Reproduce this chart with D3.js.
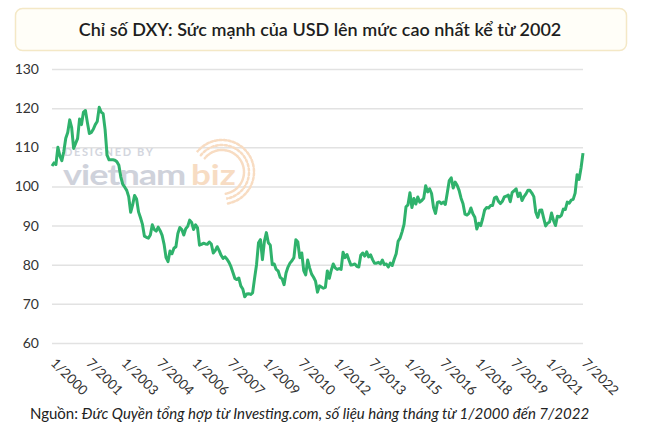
<!DOCTYPE html>
<html>
<head>
<meta charset="utf-8">
<script src="https://cdn.jsdelivr.net/npm/d3@7"></script>
<style>
  html, body { margin: 0; padding: 0; background: #ffffff; }
  svg { display: block; font-family: Lato, "Open Sans", sans-serif; }
</style>
</head>
<body>
<svg id="chart" width="647" height="428"></svg>
<script>
// ---------------- DATA ----------------
const titleText = "Chỉ số DXY: Sức mạnh của USD lên mức cao nhất kể từ 2002";
const sourceLabel = "Nguồn: ";
const sourceText = "Đức Quyền tổng hợp từ Investing.com, số liệu hàng tháng từ 1/2000 đến 7/2022";
const startYear = 2000;
const startMonth = 1;

// Monthly DXY values, 1/2000 .. 7/2022
const dxy2000 = [105.2, 106.0, 105.6, 110.0, 107.8, 106.6, 108.9, 112.3, 113.8, 117.0, 115.0, 109.7];
const dxy2001 = [111.0, 112.2, 117.2, 115.8, 119.0, 119.4, 116.3, 113.5, 113.8, 114.6, 115.8, 116.6];
const dxy2002 = [120.2, 119.0, 118.6, 114.5, 108.0, 106.8, 106.8, 106.8, 106.7, 106.3, 105.4, 102.4];
const dxy2003 = [100.5, 99.8, 99.0, 97.4, 93.4, 95.3, 97.7, 96.8, 93.5, 92.0, 90.3, 87.3];
const dxy2004 = [87.0, 86.8, 87.6, 90.2, 89.0, 88.6, 89.6, 88.7, 87.5, 85.2, 81.8, 80.8];
const dxy2005 = [83.5, 82.8, 84.2, 84.6, 88.0, 89.5, 89.0, 87.6, 89.2, 89.8, 91.4, 90.8];
const dxy2006 = [89.0, 90.2, 89.4, 85.0, 85.2, 85.5, 85.3, 85.2, 85.8, 85.3, 83.0, 83.6];
const dxy2007 = [84.6, 83.6, 82.4, 81.6, 82.0, 81.4, 80.6, 79.5, 78.0, 76.5, 76.2, 76.6];
const dxy2008 = [74.6, 73.8, 71.8, 72.5, 72.6, 72.4, 72.8, 76.5, 80.0, 85.6, 86.4, 81.3];
const dxy2009 = [86.0, 88.2, 85.6, 85.0, 80.0, 80.2, 78.8, 78.4, 76.8, 76.4, 74.9, 77.9];
const dxy2010 = [79.4, 80.4, 81.0, 81.8, 86.4, 85.8, 81.8, 83.0, 78.5, 77.4, 81.2, 79.2];
const dxy2011 = [77.6, 76.8, 75.8, 73.0, 74.6, 74.3, 74.0, 74.2, 78.4, 76.5, 78.6, 80.2];
const dxy2012 = [79.2, 78.8, 79.0, 78.8, 83.2, 81.8, 82.6, 81.2, 79.9, 80.0, 80.2, 79.6];
const dxy2013 = [79.4, 82.4, 83.0, 82.2, 83.3, 82.0, 82.5, 81.3, 80.4, 80.4, 80.6, 80.2];
const dxy2014 = [81.2, 80.0, 80.2, 79.4, 80.4, 79.8, 81.4, 82.8, 86.0, 86.8, 88.4, 90.3];
const dxy2015 = [94.8, 95.3, 98.4, 94.6, 96.9, 95.5, 97.3, 96.0, 96.4, 97.0, 100.2, 98.6];
const dxy2016 = [99.4, 98.2, 94.6, 93.1, 95.9, 96.1, 95.6, 96.0, 95.4, 98.4, 101.5, 102.2];
const dxy2017 = [99.6, 101.1, 100.3, 99.0, 97.0, 95.6, 92.9, 92.7, 93.1, 94.5, 93.0, 92.1];
const dxy2018 = [89.1, 90.6, 90.0, 91.8, 94.0, 94.6, 94.5, 95.1, 95.1, 97.1, 97.3, 96.2];
const dxy2019 = [95.6, 96.2, 97.3, 97.5, 97.8, 96.1, 98.5, 98.9, 99.4, 97.4, 98.3, 96.4];
const dxy2020 = [97.4, 98.1, 99.0, 99.0, 98.3, 97.4, 93.4, 92.1, 93.9, 94.0, 91.9, 89.9];
const dxy2021 = [90.6, 90.9, 93.2, 91.3, 90.0, 92.4, 92.2, 92.6, 94.2, 94.1, 96.0, 95.7];
const dxy2022 = [96.5, 96.7, 98.3, 103.0, 101.8, 104.7, 108.5];

const dxy = [].concat(dxy2000, dxy2001, dxy2002, dxy2003, dxy2004, dxy2005, dxy2006,
  dxy2007, dxy2008, dxy2009, dxy2010, dxy2011, dxy2012, dxy2013, dxy2014, dxy2015,
  dxy2016, dxy2017, dxy2018, dxy2019, dxy2020, dxy2021, dxy2022);

const yTicks = [60, 70, 80, 90, 100, 110, 120, 130];
const xTickLabels = ["1/2000", "7/2001", "1/2003", "7/2004", "1/2006", "7/2007", "1/2009",
  "7/2010", "1/2012", "7/2013", "1/2015", "7/2016", "1/2018", "7/2019", "1/2021", "7/2022"];

// ---------------- DRAW ----------------
const svg = d3.select("#chart");

// Title box
svg.append("rect")
  .attr("x", 15.5).attr("y", 8.5).attr("width", 611).attr("height", 42)
  .attr("rx", 7).attr("ry", 7)
  .attr("fill", "#fffef8").attr("stroke", "#f4e8c6").attr("stroke-width", 1.5);
svg.append("text")
  .attr("x", 320).attr("y", 36)
  .attr("text-anchor", "middle")
  .attr("font-size", 18).attr("font-weight", 600).attr("fill", "#1e1e1e")
  .text(titleText);

const x = d3.scaleLinear().domain([0, dxy.length - 1]).range([52, 583]);
const y = d3.scaleLinear().domain([60, 130]).range([343, 69]);

function labelIndex(lbl) {
  const [m, yr] = lbl.split("/").map(Number);
  return (yr - startYear) * 12 + (m - startMonth);
}

// Gridlines + y labels via axis
const yAxis = d3.axisLeft(y).tickValues(yTicks).tickSize(-(583 - 52)).tickPadding(13).tickFormat(d3.format("d"));
const gy = svg.append("g").attr("transform", "translate(52,0)").call(yAxis);
gy.select(".domain").remove();
gy.selectAll(".tick line").attr("stroke", "#e2e2e2").attr("stroke-width", 1.5);
gy.selectAll(".tick text").attr("font-size", 14).attr("fill", "#333").attr("font-family", "Lato, sans-serif");

// Watermark
const wm = svg.append("g");
wm.append("text").attr("x", 64).attr("y", 156).attr("font-size", 11).attr("font-weight", 700)
  .attr("letter-spacing", 1.7).attr("fill", "#d3d6de").text("DESIGNED BY");
wm.append("text").attr("transform", "translate(63,185) scale(1.03,0.82)")
  .attr("font-size", 35).attr("font-weight", 700)
  .attr("letter-spacing", -1).attr("fill", "#cfd2db").text("vietnam");
wm.append("text").attr("transform", "translate(191,185) scale(1.03,0.82)")
  .attr("font-size", 34).attr("font-weight", 700)
  .attr("fill", "#f7dcc3").text("biz");
const arc = d3.arc();
[22, 27, 32].forEach(r => {
  wm.append("path")
    .attr("transform", "translate(222,172)")
    .attr("d", arc({innerRadius: r, outerRadius: r, startAngle: -0.9, endAngle: Math.PI * 0.95}))
    .attr("fill", "none").attr("stroke", "#f8dcc2").attr("stroke-width", 2.5)
    .attr("stroke-dasharray", "1.5 3").attr("stroke-linecap", "round");
});

// X labels
const gx = svg.append("g");
xTickLabels.forEach(lbl => {
  const xi = x(labelIndex(lbl));
  gx.append("text")
    .attr("transform", `translate(${xi - 2},${364}) rotate(45)`)
    .attr("font-size", 13.5).attr("fill", "#333")
    .text(lbl);
});

// Line
const line = d3.line().x((d, i) => x(i)).y(d => y(d)).curve(d3.curveLinear);
svg.append("path").datum(dxy)
  .attr("d", line).attr("fill", "none")
  .attr("stroke", "#2fb26c").attr("stroke-width", 3).attr("stroke-linejoin", "round");

// Source
const src = svg.append("text").attr("x", 30).attr("y", 419).attr("font-size", 15).attr("fill", "#222");
src.append("tspan").text(sourceLabel);
src.append("tspan").attr("font-style", "italic").text(sourceText);
</script>
</body>
</html>
